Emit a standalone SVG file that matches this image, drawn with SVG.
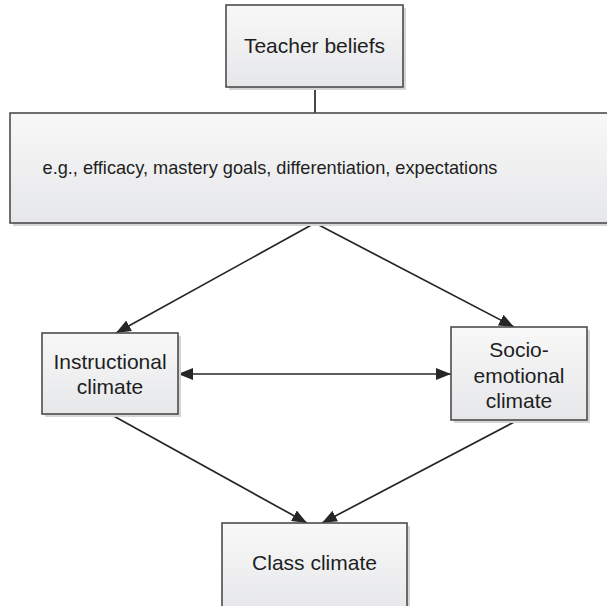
<svg xmlns="http://www.w3.org/2000/svg" width="607" height="606" viewBox="0 0 607 606">
  <style>
    .box { fill: url(#boxFill); stroke: #4d4d4d; stroke-width: 1.6; }
    .shadow { fill: #d6d6d6; }
    .label { font-family: "Liberation Sans", Arial, sans-serif; font-size: 21px; fill: #1e1e1e; text-anchor: middle; }
    .edge { stroke: #262626; stroke-width: 1.7; fill: none; }
  </style>
  <defs>
    <linearGradient id="boxFill" x1="0" y1="0" x2="0" y2="1">
      <stop offset="0" stop-color="#f8f8f8"/>
      <stop offset="1" stop-color="#e6e7e9"/>
    </linearGradient>
    <marker id="arrow" viewBox="0 0 15 12" refX="15" refY="6" markerWidth="15" markerHeight="12" markerUnits="userSpaceOnUse" orient="auto-start-reverse">
      <path d="M0,0 L15,6 L0,12 Z" fill="#262626"/>
    </marker>
  </defs>

  <rect width="607" height="606" fill="#fff"/>

  <!-- connectors -->
  <g id="connectors">
    <line class="edge" x1="315" y1="87" x2="315" y2="113"/>
    <line class="edge" x1="315" y1="223" x2="116" y2="333" marker-end="url(#arrow)"/>
    <line class="edge" x1="315" y1="223" x2="514" y2="327" marker-end="url(#arrow)"/>
    <line class="edge" x1="178" y1="374" x2="451" y2="374" marker-start="url(#arrow)" marker-end="url(#arrow)"/>
    <line class="edge" x1="110" y1="414" x2="307" y2="523" marker-end="url(#arrow)"/>
    <line class="edge" x1="518" y1="420" x2="322" y2="523" marker-end="url(#arrow)"/>
  </g>

  <g id="teacher-beliefs">
    <rect class="shadow" x="229" y="8" width="177" height="82"/>
    <rect class="box" x="226" y="5" width="177" height="82"/>
    <text class="label" x="314.5" y="52.5">Teacher beliefs</text>
  </g>

  <g id="examples">
    <rect class="shadow" x="13" y="116" width="600" height="110"/>
    <rect class="box" x="10" y="113" width="600" height="110"/>
    <text class="label" x="270" y="173.5" style="font-size:18.2px">e.g., efficacy, mastery goals, differentiation, expectations</text>
  </g>

  <g id="instructional-climate">
    <rect class="shadow" x="45" y="336" width="136" height="81"/>
    <rect class="box" x="42" y="333" width="136" height="81"/>
    <text class="label" x="110" y="369">Instructional</text>
    <text class="label" x="110" y="394">climate</text>
  </g>

  <g id="socio-emotional-climate">
    <rect class="shadow" x="454" y="330" width="136" height="93"/>
    <rect class="box" x="451" y="327" width="136" height="93"/>
    <text class="label" x="519" y="357">Socio-</text>
    <text class="label" x="519" y="382.5">emotional</text>
    <text class="label" x="519" y="408">climate</text>
  </g>

  <g id="class-climate">
    <rect class="shadow" x="225" y="526" width="185" height="90"/>
    <rect class="box" x="222" y="523" width="185" height="90"/>
    <text class="label" x="314.5" y="570">Class climate</text>
  </g>
</svg>
